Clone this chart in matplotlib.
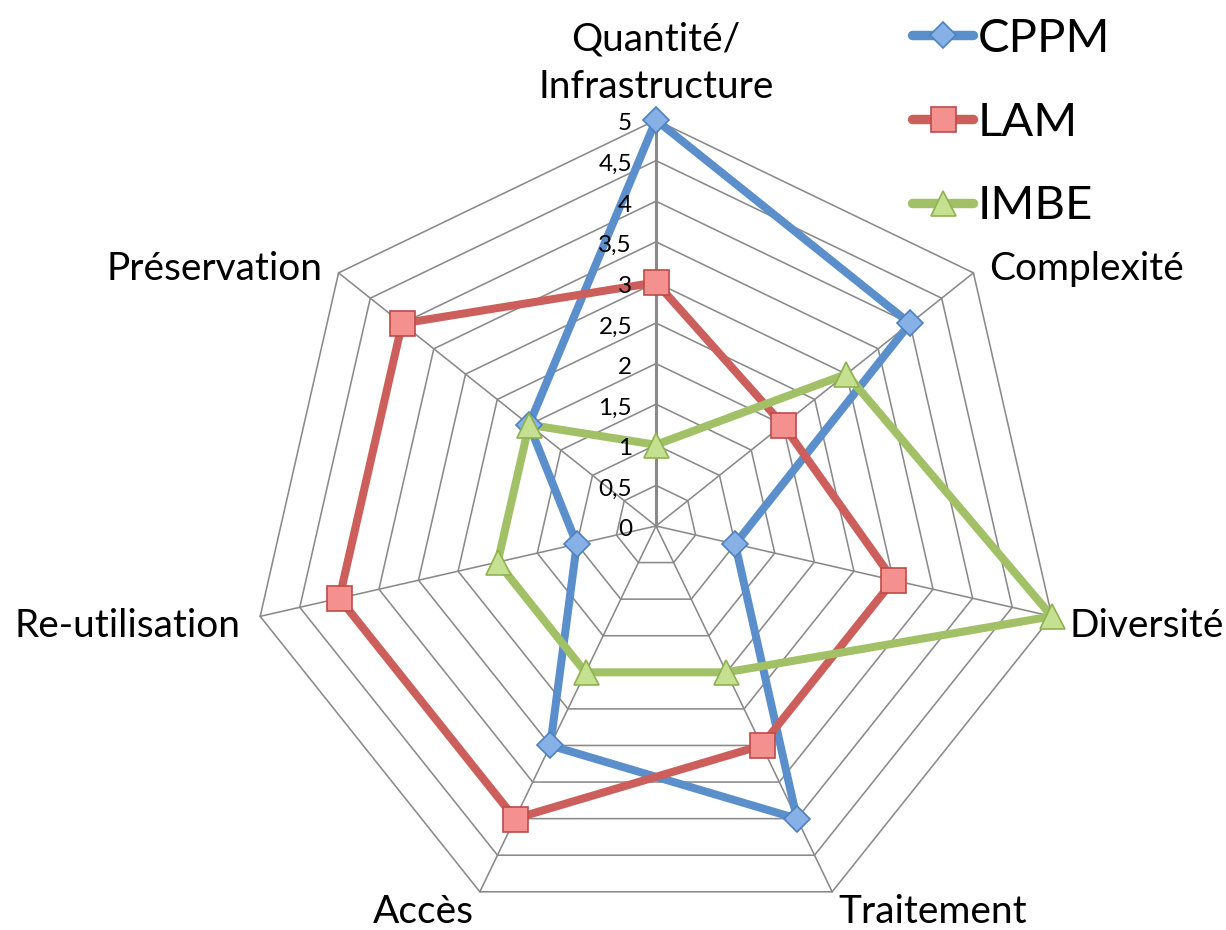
import numpy as np
import matplotlib
matplotlib.use("Agg")
import matplotlib.pyplot as plt
from matplotlib.lines import Line2D

# ---- data ----
categories = ["Quantité/\nInfrastructure", "Complexité", "Diversité", "Traitement",
              "Accès", "Re-utilisation", "Préservation"]
series_names = ["CPPM", "LAM", "IMBE"]
cppm = [5, 4, 1, 4, 3, 1, 2]
lam = [3, 2, 3, 3, 4, 4, 4]
imbe = [1, 3, 5, 2, 2, 2, 2]
tick_values = [0, 0.5, 1, 1.5, 2, 2.5, 3, 3.5, 4, 4.5, 5]
tick_labels = ["0", "0,5", "1", "1,5", "2", "2,5", "3", "3,5", "4", "4,5", "5"]

# ---- style ----
plt.rcParams['font.family'] = ['Lato', 'DejaVu Sans']
line_colors = ["#5A8FCB", "#CC5F5B", "#A2C166"]
face_colors = ["#86B0E6", "#F4908D", "#C4E090"]
edge_colors = ["#4F81BD", "#BE4B48", "#8FB24F"]
markers = ["D", "s", "^"]
msizes = [13.5, 18, 18]
grid_color = "#8A8A8A"

W, H = 1226, 930
cx, cy = 656, 526          # centre in pixels
scale = 81.2               # pixels per value unit
rmax = 5

fig = plt.figure(figsize=(W / 100, H / 100), dpi=100)
ax = fig.add_axes([0, 0, 1, 1])
ax.set_xlim(-cx / scale, (W - cx) / scale)
ax.set_ylim(-(H - cy) / scale, cy / scale)
ax.set_aspect('equal')
ax.axis('off')

n = len(categories)
angles = np.pi / 2 - 2 * np.pi * np.arange(n) / n
ca, sa = np.cos(angles), np.sin(angles)

# grid rings
for r in tick_values[1:]:
    xs = np.append(r * ca, r * ca[0])
    ys = np.append(r * sa, r * sa[0])
    ax.plot(xs, ys, color=grid_color, lw=1.15, zorder=1)
# spokes
for k in range(n):
    ax.plot([0, rmax * ca[k]], [0, rmax * sa[k]], color=grid_color,
            lw=2.2 if k == 0 else 1.15, zorder=1)

# tick labels on the first axis (drawn above the series, as in the reference)
for v, lab in zip(tick_values, tick_labels):
    ax.annotate(lab, (v * ca[0], v * sa[0]), xytext=(-24, -4),
                textcoords='offset pixels', ha='right', va='center',
                fontsize=17.5, color='black', zorder=6)

# series
handles = []
for vals, name, lc, fc, ec, m, ms in zip([cppm, lam, imbe], series_names, line_colors,
                                         face_colors, edge_colors, markers, msizes):
    v = np.array(vals, dtype=float)
    xs = np.append(v * ca, v[0] * ca[0])
    ys = np.append(v * sa, v[0] * sa[0])
    ax.plot(xs, ys, color=lc, lw=5.8, solid_joinstyle='round', zorder=3)
    ax.plot(v * ca, v * sa, linestyle='none', marker=m, markersize=ms,
            markerfacecolor=fc, markeredgecolor=ec, markeredgewidth=1.2, zorder=4)
    handles.append(Line2D([], [], color=lc, lw=6.8, solid_capstyle='round',
                          marker=m, markersize=ms, markerfacecolor=fc,
                          markeredgecolor=ec, markeredgewidth=1.2, label=name))

# category labels
label_pos = [
    ((0, 15), 'center', 'bottom'),
    ((16, -7), 'left', 'baseline'),
    ((18, -21), 'left', 'baseline'),
    ((6, -31), 'left', 'baseline'),
    ((-6, -31), 'right', 'baseline'),
    ((-20, -21), 'right', 'baseline'),
    ((-16, -7), 'right', 'baseline'),
]
for k, (lab, (off, ha, va)) in enumerate(zip(categories, label_pos)):
    ax.annotate(lab, (rmax * ca[k], rmax * sa[k]), xytext=off,
                textcoords='offset pixels', ha=ha, va=va, fontsize=28,
                color='black', linespacing=1.4, zorder=2)

leg = ax.legend(handles=handles, loc='upper left',
                bbox_to_anchor=(912 / W, 1 - 18 / H), bbox_transform=fig.transFigure,
                frameon=False, fontsize=34, handlelength=1.3, handletextpad=0.1,
                labelspacing=0.88, borderpad=0, borderaxespad=0)

fig.savefig("out.png", dpi=100, facecolor='white')
